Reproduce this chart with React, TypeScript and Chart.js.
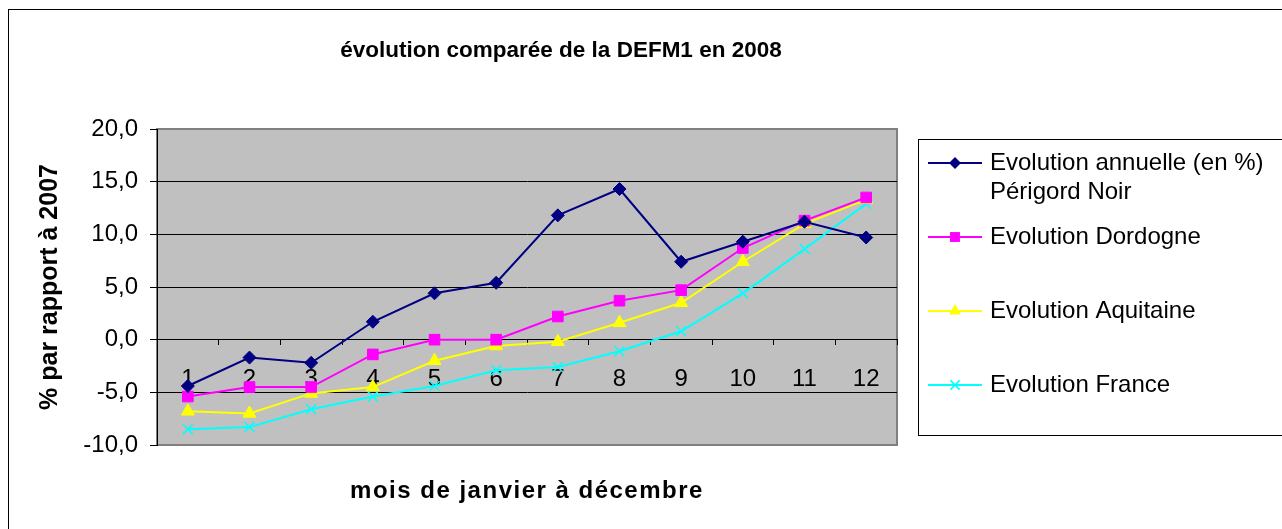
import React, { useEffect, useRef } from 'react';
import { Chart, registerables } from 'chart.js';

Chart.register(...registerables);

const months = ['1', '2', '3', '4', '5', '6', '7', '8', '9', '10', '11', '12'];
const perigordNoir = [-4.4, -1.7, -2.2, 1.7, 4.4, 5.4, 11.8, 14.3, 7.4, 9.3, 11.2, 9.7];
const dordogne = [-5.4, -4.5, -4.5, -1.4, 0.0, 0.0, 2.2, 3.7, 4.7, 8.7, 11.3, 13.5];
const aquitaine = [-6.8, -7.0, -5.1, -4.5, -2.0, -0.6, -0.2, 1.6, 3.5, 7.4, 11.0, 13.3];
const france = [-8.5, -8.3, -6.6, -5.4, -4.4, -2.9, -2.6, -1.1, 0.8, 4.4, 8.6, 12.9];

const seriesLabels = [
  ['Evolution annuelle (en %)', 'Périgord Noir'],
  ['Evolution Dordogne'],
  ['Evolution Aquitaine'],
  ['Evolution France'],
];
const seriesColors = ['#000080', '#FF00FF', '#FFFF00', '#00FFFF'];
const seriesMarkers = ['rectRot', 'rect', 'triangle', 'crossRot'];
const seriesMarkerRadius = [6.5, 7.5, 7.5, 7];

const chartTitle = 'évolution comparée de la DEFM1 en 2008';
const xAxisTitle = 'mois de janvier à décembre';
const yAxisTitle = '% par rapport à 2007';
const yMin = -10;
const yMax = 20;
const yStep = 5;

const FONT = '"Liberation Sans", Arial, sans-serif';

function drawMarker(ctx: CanvasRenderingContext2D, style: string, x: number, y: number, r: number, color: string) {
  ctx.save();
  ctx.fillStyle = color;
  ctx.strokeStyle = color;
  ctx.lineWidth = 1.5;
  ctx.beginPath();
  if (style === 'rectRot') {
    ctx.moveTo(x - r, y);
    ctx.lineTo(x, y - r);
    ctx.lineTo(x + r, y);
    ctx.lineTo(x, y + r);
    ctx.closePath();
    ctx.fill();
  } else if (style === 'rect') {
    const s = r * Math.SQRT1_2;
    ctx.rect(x - s, y - s, 2 * s, 2 * s);
    ctx.fill();
  } else if (style === 'triangle') {
    for (let i = 0; i < 3; i++) {
      const a = (i * 2 * Math.PI) / 3;
      const px = x + Math.sin(a) * r;
      const py = y - Math.cos(a) * r;
      if (i === 0) ctx.moveTo(px, py);
      else ctx.lineTo(px, py);
    }
    ctx.closePath();
    ctx.fill();
  } else {
    const o = r * Math.SQRT1_2;
    ctx.moveTo(x - o, y - o);
    ctx.lineTo(x + o, y + o);
    ctx.moveTo(x - o, y + o);
    ctx.lineTo(x + o, y - o);
    ctx.stroke();
  }
  ctx.restore();
}

const framePlugin = {
  id: 'frame',
  beforeDraw(chart: any) {
    const { ctx, chartArea: a } = chart;
    ctx.save();
    ctx.fillStyle = '#ffffff';
    ctx.fillRect(0, 0, chart.width, chart.height);
    ctx.strokeStyle = '#000000';
    ctx.lineWidth = 1;
    ctx.strokeRect(8.5, 9.5, 3000, 3000);
    ctx.fillStyle = '#C0C0C0';
    ctx.fillRect(a.left, a.top, a.right - a.left, a.bottom - a.top);
    ctx.strokeStyle = '#808080';
    ctx.lineWidth = 2;
    ctx.strokeRect(a.left, a.top, a.right - a.left, a.bottom - a.top);
    ctx.restore();
  },
  afterDraw(chart: any) {
    const { ctx, chartArea: a } = chart;
    ctx.save();
    ctx.fillStyle = '#000000';
    ctx.textAlign = 'center';
    ctx.textBaseline = 'alphabetic';
    ctx.font = `bold 22.5px ${FONT}`;
    ctx.fillText(chartTitle, 561, 57);

    ctx.font = `bold 24px ${FONT}`;
    (ctx as any).letterSpacing = '1.5px';
    ctx.fillText(xAxisTitle, (a.left + a.right) / 2, 498);
    (ctx as any).letterSpacing = '0px';

    // legend
    const bx = 918.5;
    const by = 139.5;
    ctx.fillStyle = '#ffffff';
    ctx.fillRect(bx, by, 1000, 296);
    ctx.strokeStyle = '#000000';
    ctx.lineWidth = 1;
    ctx.strokeRect(bx, by, 1000, 296);
    ctx.textAlign = 'left';
    ctx.textBaseline = 'middle';
    ctx.font = `24px ${FONT}`;
    chart.data.datasets.forEach((ds: any, i: number) => {
      const y = 163 + i * 74;
      ctx.strokeStyle = ds.borderColor;
      ctx.lineWidth = 2;
      ctx.beginPath();
      ctx.moveTo(928, y);
      ctx.lineTo(982, y);
      ctx.stroke();
      drawMarker(ctx, seriesMarkers[i], 955, y, seriesMarkerRadius[i] - 0.5, seriesColors[i]);
      ctx.fillStyle = '#000000';
      seriesLabels[i].forEach((line, j) => {
        ctx.fillText(line, 990, y + j * 29);
      });
    });
    ctx.restore();
  },
};

export default function App() {
  const canvasRef = useRef<HTMLCanvasElement | null>(null);

  useEffect(() => {
    const canvas = canvasRef.current;
    if (!canvas) return;
    const allSeries = [perigordNoir, dordogne, aquitaine, france];
    const chart = new Chart(canvas, {
      type: 'line',
      data: {
        labels: months,
        datasets: allSeries.map((values, i) => ({
          label: seriesLabels[i].join(' '),
          data: values,
          borderColor: seriesColors[i],
          backgroundColor: seriesColors[i],
          pointBorderColor: seriesColors[i],
          pointBackgroundColor: seriesColors[i],
          pointStyle: seriesMarkers[i] as any,
          pointRadius: seriesMarkerRadius[i],
          pointBorderWidth: i === 3 ? 1.5 : 1,
          borderWidth: 2,
          tension: 0,
          fill: false,
        })),
      },
      options: {
        responsive: false,
        animation: false,
        devicePixelRatio: 1,
        layout: { padding: { left: 8, top: 129, right: 385, bottom: 84 } },
        plugins: {
          legend: { display: false },
          title: { display: false },
          tooltip: { enabled: false },
        },
        scales: {
          x: {
            type: 'category',
            position: { y: 0 } as any,
            offset: true,
            grid: {
              drawOnChartArea: false,
              offset: true,
              drawTicks: true,
              tickLength: 5,
              color: '#000000',
            },
            border: { color: '#000000', width: 1 },
            ticks: {
              color: '#000000',
              font: { family: FONT, size: 24 },
              padding: 20,
              maxRotation: 0,
            },
          },
          y: {
            min: yMin,
            max: yMax,
            afterFit: (scale: any) => {
              scale.width = 149;
            },
            ticks: {
              stepSize: yStep,
              color: '#000000',
              font: { family: FONT, size: 24 },
              padding: 12,
              callback: (v: any) => Number(v).toFixed(1).replace('.', ','),
            },
            grid: {
              color: (ctx: any) =>
                ctx.tick && (ctx.tick.value === yMin || ctx.tick.value === yMax) ? 'rgba(0,0,0,0)' : '#000000',
              tickColor: '#000000',
              tickLength: 7,
              lineWidth: 1,
            },
            border: { color: '#000000', width: 1 },
            title: {
              display: true,
              text: yAxisTitle,
              color: '#000000',
              font: { family: FONT, size: 25, weight: 'bold' },
              padding: { top: 27, bottom: 0 },
            },
          },
        },
      },
      plugins: [framePlugin],
    });
    return () => chart.destroy();
  }, []);

  return (
    <div style={{ position: 'absolute', left: 0, top: 0, width: 1282, height: 529 }}>
      <canvas ref={canvasRef} width={1282} height={529} style={{ display: 'block', width: 1282, height: 529 }} />
    </div>
  );
}
